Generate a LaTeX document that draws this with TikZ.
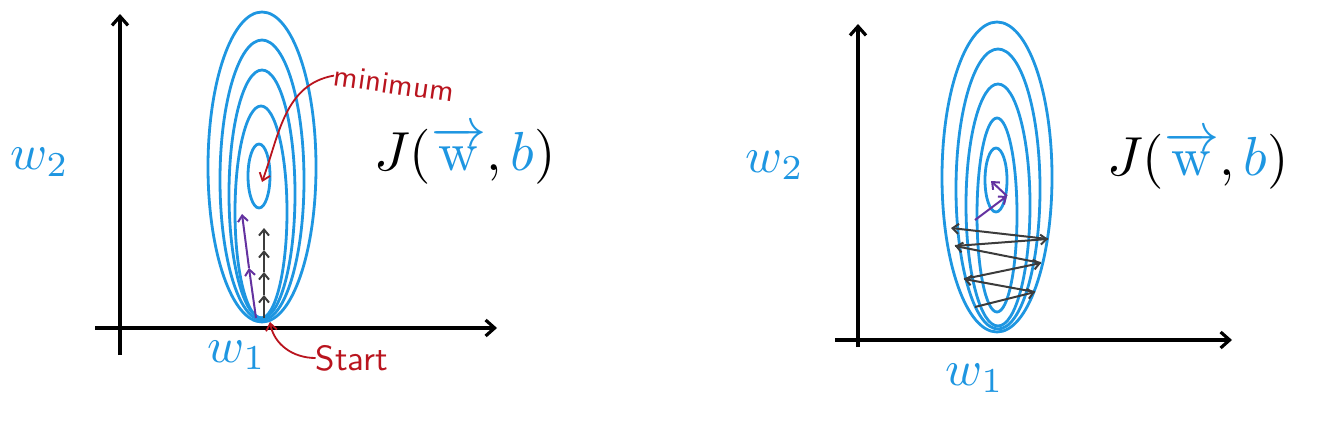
\documentclass[tikz,border=0pt]{standalone}
\usepackage{amsmath}
\usepackage{graphicx}
\usetikzlibrary{arrows.meta}
\definecolor{cblue}{RGB}{30,150,225}
\definecolor{cred}{RGB}{185,20,30}
\definecolor{cpurple}{RGB}{100,50,160}
\definecolor{cgrey}{RGB}{60,60,60}
\tikzset{
  axis/.style={line width=3.2pt, -{Straight Barb[length=9pt,width=16pt]}},
  contour/.style={cblue, line width=2.8pt},
  hand/.style={cred, line width=1.8pt, -{Straight Barb[length=7pt,width=11pt]}},
  stepline/.style={line width=2pt, -{Straight Barb[length=6pt,width=10pt]}},
  lbl/.style={cblue, inner sep=0pt},
  cost/.style={inner sep=0pt},
  note/.style={cred, inner sep=0pt}
}
\newcommand{\grow}[2]{\scalebox{#1}{#2}}
\begin{document}
\begin{tikzpicture}[x=1pt, y=-1pt]
    \useasboundingbox (0,0) rectangle (1332,425);
    % left panel
    \coordinate (ly0) at (120,355);
    \coordinate (ly1) at (120,14);
    \coordinate (lx0) at (95,328);
    \coordinate (lx1) at (497,328);
    \draw[axis] (ly0) -- (ly1);
    \draw[axis] (lx0) -- (lx1);
    \draw[contour] (262,167) ellipse [x radius=54, y radius=155];
    \draw[contour] (262,180) ellipse [x radius=42, y radius=140];
    \draw[contour] (262,194) ellipse [x radius=33, y radius=124];
    \draw[contour] (261,212) ellipse [x radius=26, y radius=106];
    \draw[contour] (259,176) ellipse [x radius=11, y radius=32];
    \node[lbl] (lw2) at (40,162) {\grow{5}{$w_2$}};
    \node[lbl] (lw1) at (237,355) {\grow{5}{$w_1$}};
    \node[cost] (lJ) at (465,155) {\grow{5.5}{$J(\textcolor{cblue}{\overrightarrow{\mathrm{w}}},\textcolor{cblue}{b})$}};
    \node[note, rotate=-8] (lmin) at (394,84) {\grow{3.1}{\sffamily minimum}};
    \node[note] (lstart) at (352,358) {\grow{3.5}{\sffamily Start}};
    \coordinate (lmid) at (262,182);
    \coordinate (lbot) at (270,322);
    \draw[hand] (lmin.west) to[out=190, in=70] (lmid);
    \draw[hand] (lstart.west) to[out=180, in=-80] (lbot);
    % steps
    \coordinate (s0) at (264,318);
    \coordinate (s1) at (264,295);
    \coordinate (s2) at (264,272);
    \coordinate (s3) at (264,250);
    \coordinate (s4) at (264,228);
    \foreach \a/\b in {s0/s1, s1/s2, s2/s3, s3/s4}
      \draw[stepline, cgrey] (\a) -- (\b);
    \coordinate (p0) at (256,318);
    \coordinate (p1) at (249,268);
    \coordinate (p2) at (242,214);
    \draw[stepline, cpurple] (p0) -- (p1);
    \draw[stepline, cpurple] (p1) -- (p2);
    % right panel
    \coordinate (ry0) at (858,347);
    \coordinate (ry1) at (858,24);
    \coordinate (rx0) at (835,340);
    \coordinate (rx1) at (1232,340);
    \draw[axis] (ry0) -- (ry1);
    \draw[axis] (rx0) -- (rx1);
    \draw[contour] (997,177) ellipse [x radius=55, y radius=155];
    \draw[contour] (998,189) ellipse [x radius=42, y radius=140];
    \draw[contour] (998,205) ellipse [x radius=32, y radius=121];
    \draw[contour] (997,215) ellipse [x radius=20, y radius=97];
    \draw[contour] (996,180) ellipse [x radius=11, y radius=32];
    \node[lbl] (rw2) at (775,165) {\grow{5}{$w_2$}};
    \node[lbl] (rw1) at (975,378) {\grow{5}{$w_1$}};
    \node[cost] (rJ) at (1198,160) {\grow{5.5}{$J(\textcolor{cblue}{\overrightarrow{\mathrm{w}}},\textcolor{cblue}{b})$}};
    % zigzag
    \coordinate (z0) at (975,307);
    \coordinate (z1) at (1035,292);
    \coordinate (z2) at (964,279);
    \coordinate (z3) at (1041,263);
    \coordinate (z4) at (955,246);
    \coordinate (z5) at (1048,239);
    \coordinate (z6) at (951,228);
    \foreach \a/\b in {z0/z1, z1/z2, z2/z3, z3/z4, z4/z5, z5/z6}
      \draw[stepline, cgrey] (\a) -- (\b);
    \coordinate (q0) at (975,220);
    \coordinate (q1) at (1007,196);
    \coordinate (q2) at (991,181);
    \draw[stepline, cpurple] (q0) -- (q1);
    \draw[stepline, cpurple] (q1) -- (q2);
\end{tikzpicture}
\end{document}
